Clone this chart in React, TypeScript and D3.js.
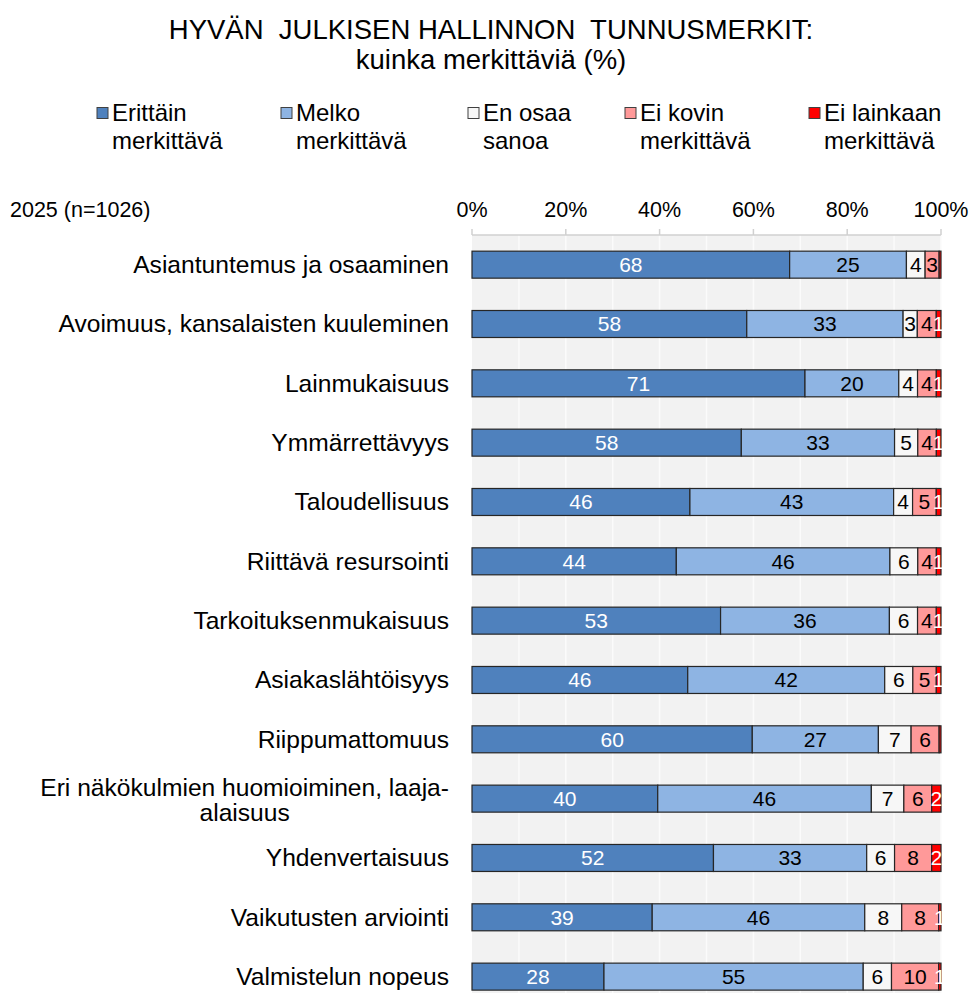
import React from "react";
import * as d3 from "d3";

const titleLines = ["HYVÄN  JULKISEN HALLINNON  TUNNUSMERKIT:", "kuinka merkittäviä (%)"];
const seriesNames = [
  ["Erittäin", "merkittävä"],
  ["Melko", "merkittävä"],
  ["En osaa", "sanoa"],
  ["Ei kovin", "merkittävä"],
  ["Ei lainkaan", "merkittävä"],
];
const seriesColors = ["#4f81bd", "#8eb4e3", "#f7f7f7", "#ff9999", "#ff0000"];
const labelColors = ["#ffffff", "#000000", "#000000", "#000000", "#ffffff"];
const sampleLabel = "2025 (n=1026)";

const categories = [
  "Asiantuntemus ja osaaminen",
  "Avoimuus, kansalaisten kuuleminen",
  "Lainmukaisuus",
  "Ymmärrettävyys",
  "Taloudellisuus",
  "Riittävä resursointi",
  "Tarkoituksenmukaisuus",
  "Asiakaslähtöisyys",
  "Riippumattomuus",
  "Eri näkökulmien huomioiminen, laaja-\nalaisuus",
  "Yhdenvertaisuus",
  "Vaikutusten arviointi",
  "Valmistelun nopeus",
];
const erittain = [68, 58, 71, 58, 46, 44, 53, 46, 60, 40, 52, 39, 28];
const melko = [25, 33, 20, 33, 43, 46, 36, 42, 27, 46, 33, 46, 55];
const enOsaa = [4, 3, 4, 5, 4, 6, 6, 6, 7, 7, 6, 8, 6];
const eiKovin = [3, 4, 4, 4, 5, 4, 4, 5, 6, 6, 8, 8, 10];
const eiLainkaan = [0.4, 1, 1, 1, 1, 1, 1, 1, 0.4, 2, 2, 0.5, 0.5];
const ticks = [0, 0.2, 0.4, 0.6, 0.8, 1];
const gridTicks = [0.1, 0.2, 0.3, 0.4, 0.5, 0.6, 0.7, 0.8, 0.9, 1];

const FONT = "'Liberation Sans', Arial, sans-serif";

function measure(text: string, size: number) {
  const c = document.createElement("canvas").getContext("2d");
  if (!c) return text.length * size * 0.5;
  c.font = `${size}px 'Liberation Sans'`;
  return c.measureText(text).width;
}

export default function App() {
  const W = 973;
  const H = 993;
  const x0 = 472;
  const x1 = 941;
  const plotTop = 235;
  const step = 59.33;
  const keys = ["s0", "s1", "s2", "s3", "s4"];
  const rows = categories.map((c, i) => ({
    cat: c,
    s0: erittain[i],
    s1: melko[i],
    s2: enOsaa[i],
    s3: eiKovin[i],
    s4: eiLainkaan[i],
  }));
  const stack = d3.stack<any>().keys(keys).offset(d3.stackOffsetExpand);
  const series = stack(rows);
  const x = d3.scaleLinear().domain([0, 1]).range([x0, x1]);
  const y = d3
    .scaleBand()
    .domain(categories)
    .range([plotTop, plotTop + step * categories.length])
    .paddingInner(0.545)
    .paddingOuter(0.2725);
  const bh = y.bandwidth();

  const legendX = [97, 281, 468, 625, 809];
  const catSize = 24.6;

  return (
    <svg
      width={W}
      height={H}
      style={{ position: "absolute", left: 0, top: 0, background: "#fff" }}
      fontFamily={FONT}
    >
      {titleLines.map((t, i) => (
        <text
          key={i}
          x={491}
          y={39 + i * 30}
          textAnchor="middle"
          fontSize={27.5}
          fill="#000"
          style={{ whiteSpace: "pre" }}
        >
          {t}
        </text>
      ))}
      {seriesNames.map((lines, i) => (
        <g key={i}>
          <rect
            x={legendX[i]}
            y={107.5}
            width={11}
            height={11}
            fill={seriesColors[i]}
            stroke="#404040"
            strokeWidth={1}
          />
          {lines.map((l, j) => (
            <text key={j} x={legendX[i] + 15} y={121 + j * 28} fontSize={24} fill="#000">
              {l}
            </text>
          ))}
        </g>
      ))}
      <text x={10} y={217} fontSize={21.5} fill="#000">
        {sampleLabel}
      </text>
      <rect x={x0} y={plotTop} width={x1 - x0} height={H - plotTop} fill="#f2f2f2" />
      {gridTicks.map((t) => (
        <line
          key={t}
          x1={x(t)}
          x2={x(t)}
          y1={plotTop}
          y2={H}
          stroke="#fbfbfb"
          strokeWidth={1.5}
        />
      ))}
      <line x1={x0} x2={x1} y1={plotTop} y2={plotTop} stroke="#d0d0d0" strokeWidth={1.5} />
      {ticks.map((t) => (
        <g key={t}>
          <line x1={x(t)} x2={x(t)} y1={plotTop - 6} y2={plotTop} stroke="#d0d0d0" strokeWidth={1.5} />
          <text x={x(t)} y={217} textAnchor="middle" fontSize={21.5} fill="#000">
            {d3.format(".0%")(t)}
          </text>
        </g>
      ))}
      {categories.map((c) => {
        const lines = c.split("\n");
        const cy = (y(c) as number) + bh / 2;
        if (lines.length === 1) {
          return (
            <text key={c} x={449} y={cy + 8.5} textAnchor="end" fontSize={catSize} fill="#000">
              {c}
            </text>
          );
        }
        const maxW = Math.max(...lines.map((l) => measure(l, catSize)));
        const cx = 449 - maxW / 2;
        const lh = 25;
        return (
          <g key={c}>
            {lines.map((l, j) => (
              <text
                key={j}
                x={cx}
                y={cy + 10 + (j - (lines.length - 1) / 2) * lh}
                textAnchor="middle"
                fontSize={catSize}
                fill="#000"
              >
                {l}
              </text>
            ))}
          </g>
        );
      })}
      {series.map((s, si) => (
        <g key={si}>
          {s.map((d, i) => {
            const cat = categories[i];
            const xa = x(d[0]);
            const xb = x(d[1]);
            const raw = (rows[i] as any)[keys[si]] as number;
            const lab = Math.round(raw);
            const yy = y(cat) as number;
            return (
              <g key={i}>
                <rect
                  x={xa}
                  y={yy}
                  width={xb - xa}
                  height={bh}
                  fill={seriesColors[si]}
                  stroke="#262626"
                  strokeWidth={1.2}
                />
                {lab > 0 && (
                  <text
                    x={(xa + xb) / 2}
                    y={yy + bh / 2 + 7.5}
                    textAnchor="middle"
                    fontSize={21}
                    fill={labelColors[si]}
                  >
                    {lab}
                  </text>
                )}
              </g>
            );
          })}
        </g>
      ))}
    </svg>
  );
}
